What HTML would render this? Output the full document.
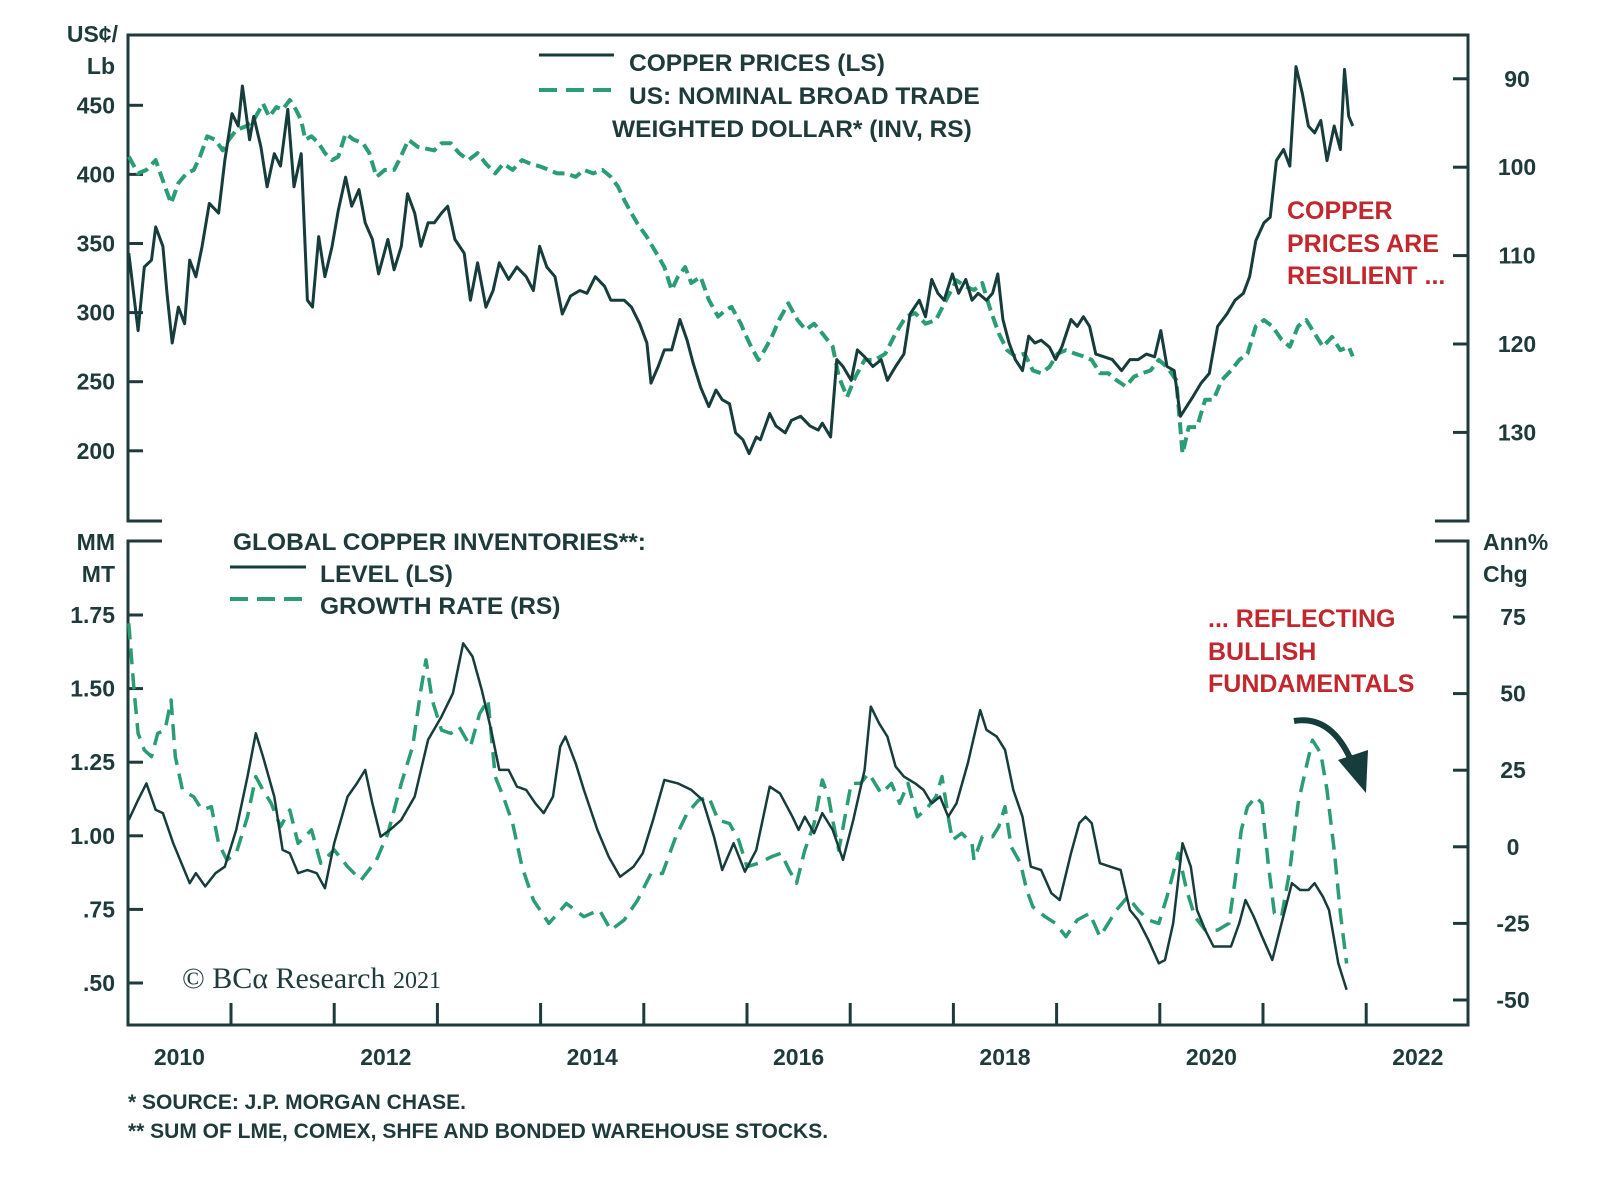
<!DOCTYPE html>
<html><head><meta charset="utf-8"><title>Copper prices and inventories</title>
<style>
html,body{margin:0;padding:0;background:#fff;}
svg{display:block;font-family:"Liberation Sans",Arial,sans-serif;}
.t{fill:#1e3a3a;font-weight:bold;font-size:23px;}
.lg{fill:#1e3a3a;font-weight:bold;font-size:24.5px;}
.red{fill:#c1272d;font-weight:bold;font-size:25px;}
.fn{fill:#1e3a3a;font-weight:bold;font-size:21px;}
</style></head>
<body>
<svg id="chart" width="1600" height="1179" viewBox="0 0 1600 1179" xmlns="http://www.w3.org/2000/svg">
<g id="frame" fill="none" stroke="#1e3a3a" stroke-width="3">
<path d="M162,521 H128 V35 H1468 V521 H1435"/>
<path d="M162,541 H128 V1025 H1468 V541 H1435"/>
</g>
<g id="axes"></g>
<g id="series"></g>

<text class="t" x="118" y="42" text-anchor="end">US¢/</text>
<text class="t" x="115" y="74" text-anchor="end">Lb</text>
<text class="t" x="115" y="550" text-anchor="end">MM</text>
<text class="t" x="115" y="582" text-anchor="end">MT</text>
<text class="t" x="1483" y="550">Ann%</text>
<text class="t" x="1483" y="582">Chg</text>

<g>
<line x1="539" y1="55" x2="614" y2="55" stroke="#163c3c" stroke-width="3"/>
<text class="lg" x="629" y="71">COPPER PRICES (LS)</text>
<line x1="539" y1="90" x2="614" y2="90" stroke="#2a9d73" stroke-width="4" stroke-dasharray="18,9"/>
<text class="lg" x="629" y="104">US: NOMINAL BROAD TRADE</text>
<text class="lg" x="612" y="137">WEIGHTED DOLLAR* (INV, RS)</text>
</g>
<g>
<text class="lg" x="233" y="550">GLOBAL COPPER INVENTORIES**:</text>
<line x1="230" y1="567" x2="306" y2="567" stroke="#163c3c" stroke-width="3"/>
<text class="lg" x="320" y="582">LEVEL (LS)</text>
<line x1="230" y1="599" x2="306" y2="599" stroke="#2a9d73" stroke-width="4" stroke-dasharray="18,9"/>
<text class="lg" x="320" y="614">GROWTH RATE (RS)</text>
</g>

<g>
<text class="red" x="1287" y="219">COPPER</text>
<text class="red" x="1287" y="252">PRICES ARE</text>
<text class="red" x="1287" y="284">RESILIENT ...</text>
</g>
<g>
<text class="red" x="1208" y="627">... REFLECTING</text>
<text class="red" x="1208" y="660">BULLISH</text>
<text class="red" x="1208" y="692">FUNDAMENTALS</text>
<path d="M1294,721 Q1330,715 1350,758" fill="none" stroke="#163c3c" stroke-width="6"/>
<polygon points="1338,760 1368,750 1366,793" fill="#163c3c"/>
</g>

<text x="182" y="988" font-family="'Liberation Serif',serif" font-size="30" fill="#1e3a3a">© BCα Research <tspan font-size="24">2021</tspan></text>
<text class="fn" x="128" y="1109">*  SOURCE: J.P. MORGAN CHASE.</text>
<text class="fn" x="128" y="1138">** SUM OF LME, COMEX, SHFE AND BONDED WAREHOUSE STOCKS.</text>
</svg>
<script>
// ---------- data ----------
const copperT=[2010.01,2010.10,2010.16,2010.23,2010.27,2010.34,2010.38,2010.43,2010.49,2010.55,2010.60,2010.66,2010.72,2010.79,2010.88,2010.94,2011.01,2011.07,2011.11,2011.18,2011.22,2011.29,2011.35,2011.42,2011.48,2011.55,2011.61,2011.68,2011.74,2011.79,2011.85,2011.91,2011.98,2012.04,2012.11,2012.17,2012.24,2012.30,2012.37,2012.43,2012.52,2012.58,2012.65,2012.71,2012.78,2012.84,2012.91,2012.97,2013.04,2013.10,2013.17,2013.26,2013.32,2013.39,2013.47,2013.54,2013.60,2013.69,2013.77,2013.86,2013.93,2013.99,2014.06,2014.14,2014.21,2014.29,2014.38,2014.45,2014.53,2014.62,2014.68,2014.81,2014.88,2014.96,2015.03,2015.07,2015.14,2015.20,2015.27,2015.35,2015.42,2015.48,2015.55,2015.63,2015.70,2015.76,2015.83,2015.89,2015.96,2016.02,2016.09,2016.13,2016.22,2016.28,2016.37,2016.43,2016.52,2016.61,2016.69,2016.73,2016.81,2016.87,2016.93,2017.01,2017.07,2017.14,2017.22,2017.30,2017.36,2017.44,2017.52,2017.58,2017.67,2017.73,2017.79,2017.85,2017.91,2017.99,2018.05,2018.12,2018.18,2018.24,2018.32,2018.38,2018.43,2018.48,2018.54,2018.60,2018.67,2018.73,2018.79,2018.85,2018.93,2018.99,2019.05,2019.14,2019.20,2019.26,2019.32,2019.38,2019.46,2019.54,2019.63,2019.71,2019.79,2019.87,2019.95,2020.01,2020.07,2020.14,2020.20,2020.26,2020.32,2020.40,2020.48,2020.56,2020.65,2020.73,2020.81,2020.87,2020.93,2021.01,2021.07,2021.13,2021.20,2021.26,2021.32,2021.38,2021.44,2021.50,2021.56,2021.62,2021.69,2021.75,2021.79,2021.83,2021.87];
const copperV=[343,287,333,338,362,348,314,278,304,292,338,326,348,379,372,410,444,435,464,425,442,420,391,415,406,447,391,415,309,304,355,326,348,374,398,377,389,365,353,328,353,331,348,386,372,348,365,365,372,377,353,343,309,336,304,316,336,324,333,326,316,348,333,326,299,312,316,314,326,319,309,309,304,292,278,249,261,273,273,295,280,263,246,232,244,237,234,213,208,198,210,208,227,218,213,222,225,218,215,220,210,266,261,251,273,268,261,266,251,261,270,299,309,297,324,314,309,328,314,324,309,314,309,314,328,295,278,266,258,283,278,280,275,266,275,295,290,297,290,270,268,266,258,266,266,270,268,287,261,258,225,232,239,249,256,290,299,309,314,326,352,365,369,410,418,406,478,459,435,430,439,410,435,418,476,442,435];
const dollarT=[2010.01,2010.10,2010.18,2010.27,2010.36,2010.42,2010.49,2010.57,2010.64,2010.70,2010.77,2010.85,2010.92,2010.98,2011.05,2011.14,2011.22,2011.31,2011.37,2011.44,2011.50,2011.57,2011.63,2011.68,2011.72,2011.78,2011.85,2011.91,2011.98,2012.04,2012.11,2012.19,2012.28,2012.34,2012.41,2012.49,2012.58,2012.63,2012.72,2012.81,2012.97,2013.04,2013.13,2013.21,2013.30,2013.39,2013.47,2013.56,2013.64,2013.73,2013.82,2013.90,2013.99,2014.08,2014.16,2014.25,2014.34,2014.42,2014.51,2014.60,2014.68,2014.75,2014.81,2014.88,2014.94,2015.03,2015.12,2015.20,2015.27,2015.33,2015.40,2015.46,2015.55,2015.63,2015.72,2015.79,2015.85,2015.94,2015.98,2016.04,2016.11,2016.17,2016.24,2016.31,2016.40,2016.49,2016.57,2016.65,2016.73,2016.83,2016.89,2016.97,2017.05,2017.14,2017.24,2017.34,2017.44,2017.54,2017.63,2017.73,2017.83,2017.93,2018.03,2018.12,2018.20,2018.28,2018.36,2018.44,2018.52,2018.60,2018.69,2018.77,2018.85,2018.93,2019.01,2019.09,2019.18,2019.26,2019.34,2019.42,2019.50,2019.58,2019.67,2019.75,2019.83,2019.91,2019.99,2020.07,2020.16,2020.22,2020.28,2020.36,2020.44,2020.52,2020.60,2020.69,2020.77,2020.85,2020.93,2021.01,2021.09,2021.18,2021.26,2021.34,2021.42,2021.50,2021.58,2021.67,2021.75,2021.83,2021.87];
const dollarV=[98.8,100.7,100.3,99.2,102.2,104.1,101.8,100.7,100.3,98.8,96.5,96.9,98.1,96.9,95.8,95.4,94.7,92.8,94.3,93.2,93.5,92.4,93.5,94.7,96.9,96.5,97.3,98.4,99.2,98.8,96.2,96.9,97.3,98.4,101.1,100.3,100.3,99.2,96.9,97.7,98.1,97.3,97.3,98.4,99.2,98.4,99.6,100.7,99.6,100.3,99.2,99.6,99.9,100.3,100.7,100.7,101.1,100.3,100.7,100.3,101.1,102.2,103.7,105.2,106.4,107.9,109.7,111.3,113.9,112.4,111.3,113.1,112.4,115.0,116.9,116.2,115.8,117.7,118.8,120.3,121.8,120.7,119.2,117.3,115.4,117.3,118.4,117.7,118.8,120.3,123.7,126.0,123.7,121.8,121.8,121.1,118.8,116.9,116.5,117.7,117.3,115.0,112.8,113.5,113.9,113.1,116.2,118.8,120.7,121.4,121.1,123.0,123.3,122.6,121.1,120.7,121.1,121.4,121.8,123.3,123.3,124.1,124.8,123.7,123.3,123.0,121.8,122.6,124.1,132.4,129.4,129.4,126.3,126.3,124.1,123.0,121.8,121.1,118.0,117.3,118.0,119.5,120.3,118.0,117.3,118.8,120.3,119.2,120.7,120.3,121.4];
const levelT=[2010.01,2010.10,2010.18,2010.27,2010.34,2010.44,2010.60,2010.66,2010.75,2010.85,2010.94,2011.05,2011.16,2011.24,2011.31,2011.42,2011.50,2011.57,2011.65,2011.74,2011.83,2011.91,2012.00,2012.13,2012.22,2012.30,2012.37,2012.45,2012.54,2012.65,2012.78,2012.91,2013.04,2013.15,2013.25,2013.34,2013.43,2013.52,2013.60,2013.69,2013.77,2013.86,2013.95,2014.03,2014.12,2014.19,2014.24,2014.34,2014.42,2014.55,2014.66,2014.77,2014.90,2014.99,2015.09,2015.20,2015.33,2015.46,2015.57,2015.68,2015.76,2015.87,2015.98,2016.09,2016.22,2016.32,2016.44,2016.50,2016.56,2016.65,2016.73,2016.83,2016.93,2017.03,2017.14,2017.20,2017.28,2017.36,2017.44,2017.52,2017.63,2017.71,2017.79,2017.87,2017.95,2018.03,2018.14,2018.20,2018.26,2018.32,2018.42,2018.50,2018.58,2018.67,2018.75,2018.85,2018.95,2019.03,2019.14,2019.22,2019.28,2019.34,2019.42,2019.52,2019.62,2019.71,2019.79,2019.89,2019.99,2020.05,2020.13,2020.22,2020.30,2020.36,2020.44,2020.52,2020.60,2020.69,2020.77,2020.83,2020.91,2020.99,2021.09,2021.18,2021.28,2021.36,2021.44,2021.50,2021.58,2021.64,2021.73,2021.81];
const levelV=[1.054,1.122,1.178,1.088,1.077,0.975,0.839,0.873,0.828,0.873,0.895,1.02,1.201,1.348,1.269,1.133,0.952,0.941,0.873,0.884,0.873,0.822,0.975,1.133,1.178,1.224,1.11,0.997,1.02,1.054,1.133,1.326,1.405,1.484,1.654,1.609,1.495,1.36,1.224,1.224,1.167,1.156,1.11,1.077,1.133,1.303,1.337,1.246,1.156,1.02,0.929,0.861,0.895,0.941,1.054,1.19,1.178,1.156,1.122,0.997,0.884,0.975,0.878,0.952,1.167,1.144,1.065,1.02,1.065,1.009,1.077,1.02,0.918,1.054,1.224,1.439,1.382,1.337,1.235,1.201,1.178,1.156,1.11,1.133,1.065,1.11,1.246,1.337,1.427,1.36,1.337,1.292,1.156,1.065,0.895,0.884,0.805,0.782,0.941,1.043,1.065,1.043,0.907,0.895,0.884,0.748,0.714,0.646,0.567,0.578,0.703,0.975,0.895,0.748,0.68,0.624,0.624,0.624,0.703,0.782,0.726,0.658,0.578,0.703,0.839,0.816,0.816,0.839,0.793,0.748,0.567,0.477];
const growthT=[2010.01,2010.06,2010.10,2010.16,2010.23,2010.29,2010.36,2010.42,2010.46,2010.53,2010.64,2010.72,2010.81,2010.88,2010.96,2011.05,2011.16,2011.24,2011.31,2011.39,2011.48,2011.57,2011.65,2011.78,2011.87,2012.00,2012.13,2012.26,2012.41,2012.52,2012.65,2012.76,2012.84,2012.89,2012.95,2013.04,2013.13,2013.21,2013.32,2013.41,2013.49,2013.56,2013.64,2013.73,2013.82,2013.93,2014.08,2014.25,2014.42,2014.57,2014.68,2014.81,2014.94,2015.07,2015.18,2015.31,2015.42,2015.53,2015.63,2015.72,2015.83,2015.92,2016.00,2016.11,2016.24,2016.33,2016.41,2016.48,2016.56,2016.65,2016.73,2016.79,2016.83,2016.89,2016.95,2017.01,2017.10,2017.18,2017.30,2017.40,2017.48,2017.56,2017.65,2017.73,2017.83,2017.89,2017.95,2017.99,2018.08,2018.18,2018.20,2018.28,2018.38,2018.44,2018.50,2018.56,2018.65,2018.71,2018.77,2018.89,2018.99,2019.09,2019.20,2019.32,2019.42,2019.50,2019.58,2019.69,2019.79,2019.89,2019.99,2020.07,2020.18,2020.26,2020.34,2020.44,2020.56,2020.67,2020.73,2020.79,2020.85,2020.93,2020.99,2021.05,2021.11,2021.18,2021.26,2021.34,2021.42,2021.48,2021.56,2021.62,2021.69,2021.75,2021.81];
const growthV=[72.9,51.2,37.0,31.6,29.4,37.0,38.1,47.9,29.4,18.5,16.3,12.0,13.1,1.1,-4.3,-2.1,9.8,22.9,18.5,14.2,6.6,12.0,1.1,5.5,-5.4,-1.0,-6.5,-10.9,-4.3,4.4,20.7,32.7,51.2,61.0,47.9,38.1,37.0,39.2,32.7,43.5,47.9,22.9,16.3,7.6,-6.5,-17.4,-25.0,-18.5,-22.8,-20.6,-27.2,-23.9,-17.4,-8.7,-8.7,3.3,10.9,15.2,16.3,8.7,7.6,2.2,-6.5,-5.4,-3.2,-2.1,-7.6,-11.9,-1.1,7.6,21.8,16.3,8.7,-1.1,9.8,20.7,20.7,24.0,17.4,20.7,14.2,20.7,9.8,12.0,16.3,22.9,9.8,2.2,4.4,1.1,-4.3,3.3,3.3,6.6,13.1,0.0,-5.4,-14.1,-19.6,-22.8,-25.0,-29.3,-23.9,-21.7,-29.3,-25.0,-20.6,-16.3,-20.6,-23.9,-25.0,-16.3,-2.1,-14.1,-22.8,-27.2,-27.2,-25.0,-10.9,5.5,13.1,16.3,14.2,-5.4,-21.7,-22.8,-7.6,14.2,26.1,34.8,30.5,18.5,-1.1,-21.7,-38.1];
const yearLabels=["2010","2012","2014","2016","2018","2020","2022"];
const copperTicks=[450,400,350,300,250,200];
const dollarTicks=[90,100,110,120,130];
const levelTicks=[1.75,1.50,1.25,1.00,0.75,0.50];
const levelTickLabels=["1.75","1.50","1.25","1.00",".75",".50"];
const growthTicks=[75,50,25,0,-25,-50];

// ---------- scales ----------
const X=t=>127.8+(t-2010)*103.2;
const Yc=v=>105.3+(450-v)*1.382;
const Yd=d=>78.8+(d-90)*8.84;
const Yl=v=>615+(1.75-v)*294.4;
const Yg=g=>617+(75-g)*3.064;

const NS="http://www.w3.org/2000/svg";
const axes=document.getElementById('axes');
const series=document.getElementById('series');
function mk(tag,attrs,parent){const e=document.createElementNS(NS,tag);for(const k in attrs)e.setAttribute(k,attrs[k]);parent.appendChild(e);return e;}

copperTicks.forEach(v=>{
  const l=mk('line',{x1:128,x2:143,y1:Yc(v),y2:Yc(v),stroke:'#1e3a3a','stroke-width':3},axes);
  
  
  const t=mk('text',{x:115,y:Yc(v)+8,'text-anchor':'end',class:'t'},axes);t.textContent=v;
  
  
});
dollarTicks.forEach(v=>{
  const l=mk('line',{x1:1453,x2:1468,y1:Yd(v),y2:Yd(v),stroke:'#1e3a3a','stroke-width':3},axes);
  
  
  const t=mk('text',{x:1517,y:Yd(v)+8,'text-anchor':'middle',class:'t'},axes);t.textContent=v;
  
  
});
levelTicks.forEach((v,i)=>{
  const l=mk('line',{x1:128,x2:143,y1:Yl(v),y2:Yl(v),stroke:'#1e3a3a','stroke-width':3},axes);
  
  
  const t=mk('text',{x:115,y:Yl(v)+8,'text-anchor':'end',class:'t'},axes);t.textContent=levelTickLabels[i];
  
  
});
growthTicks.forEach(v=>{
  const l=mk('line',{x1:1453,x2:1468,y1:Yg(v),y2:Yg(v),stroke:'#1e3a3a','stroke-width':3},axes);
  
  
  const t=mk('text',{x:1513,y:Yg(v)+8,'text-anchor':'middle',class:'t'},axes);t.textContent=v;
  
  
});
for(let y=2011;y<=2022;y++){
  const l=mk('line',{x1:X(y),x2:X(y),y1:1025,y2:1003,stroke:'#1e3a3a','stroke-width':3},axes);
  
  
}
yearLabels.forEach(s=>{
  const t=mk('text',{x:X(+s+0.5),y:1065,'text-anchor':'middle',class:'t'},axes);t.textContent=s;
  
  
});

function line(ts,vs,sy,attrs,name){
  const d=ts.map((t,i)=>(i?'L':'M')+X(t).toFixed(1)+','+sy(vs[i]).toFixed(1)).join(' ');
  const p=mk('path',Object.assign({d:d,fill:'none','stroke-linejoin':'round'},attrs),series);
  
  
}
line(dollarT,dollarV,Yd,{stroke:'#2a9d73','stroke-width':4,'stroke-dasharray':'12,6'},'dollar-line');
line(copperT,copperV,Yc,{stroke:'#163c3c','stroke-width':3},'copper-line');
line(growthT,growthV,Yg,{stroke:'#2a9d73','stroke-width':3.5,'stroke-dasharray':'16,9'},'growth-line');
line(levelT,levelV,Yl,{stroke:'#163c3c','stroke-width':2.5},'level-line');
</script>
</body></html>
